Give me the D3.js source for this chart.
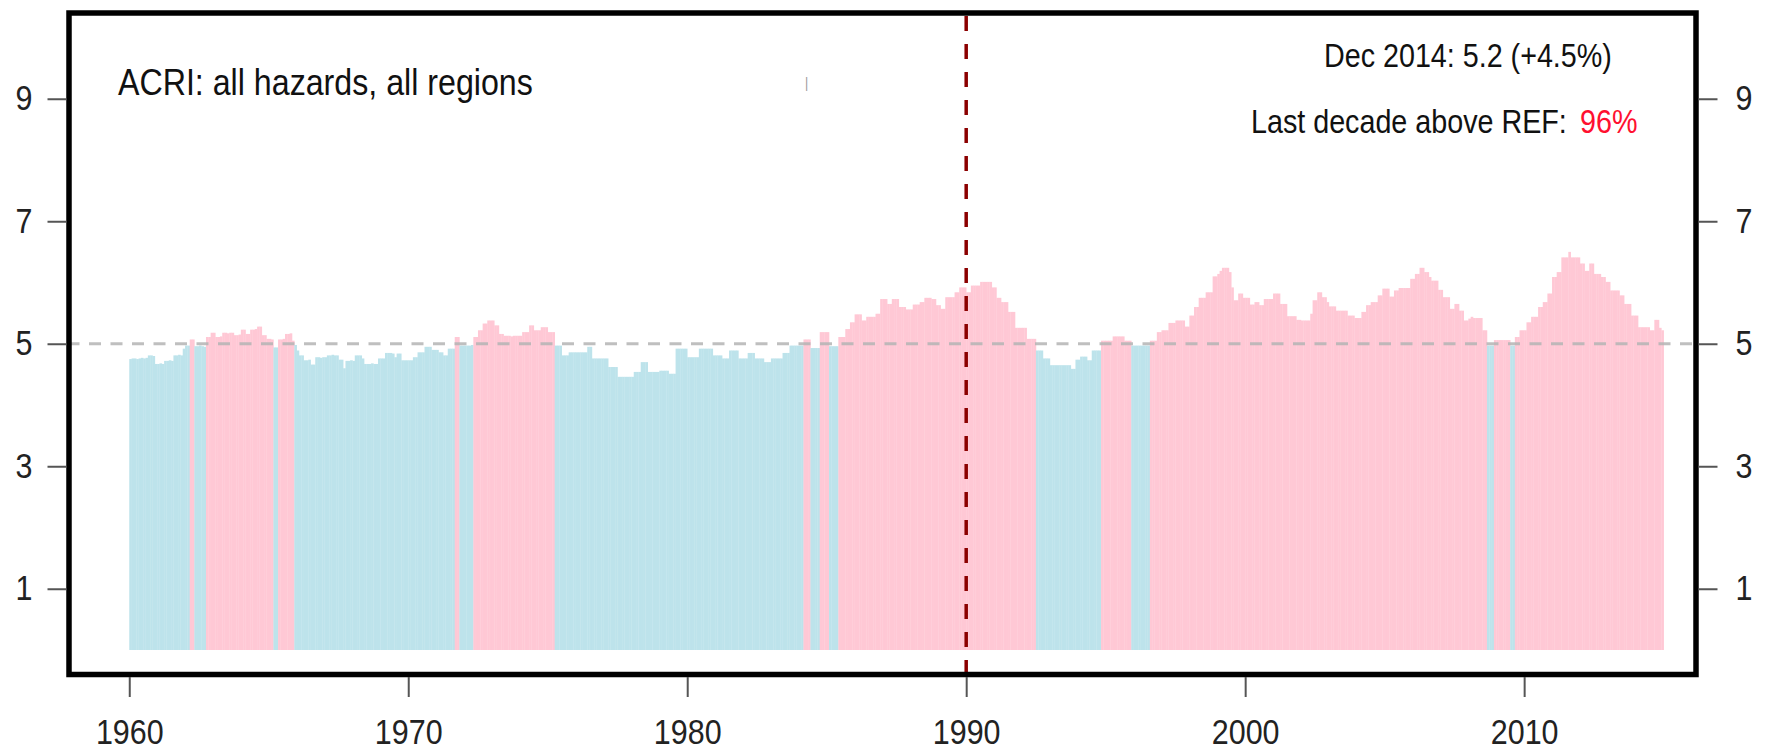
<!DOCTYPE html>
<html>
<head>
<meta charset="utf-8">
<script src="https://cdn.jsdelivr.net/npm/d3@7"></script>
<style>
  body { margin: 0; background: #fff; }
  svg text { font-family: "Liberation Sans", Arial, sans-serif; }
</style>
</head>
<body>
<div id="chart-container"></div>
<script>
   // monthly ACRI values, Jan..Dec per row
   const acri1960s = [
       4.75, 4.76, 4.76, 4.75, 4.76, 4.77, 4.76, 4.77, 4.81, 4.81, 4.80, 4.67,
       4.67, 4.68, 4.67, 4.72, 4.72, 4.73, 4.72, 4.81, 4.81, 4.82, 4.81, 4.92,
       4.97, 4.97, 5.07, 5.07, 4.96, 4.96, 4.97, 4.96, 4.95, 5.11, 5.11, 5.18,
       5.18, 5.11, 5.11, 5.12, 5.18, 5.18, 5.17, 5.18, 5.18, 5.14, 5.14, 5.15,
       5.23, 5.23, 5.16, 5.16, 5.23, 5.23, 5.24, 5.28, 5.28, 5.14, 5.14, 5.08,
       5.08, 5.07, 4.94, 4.94, 5.07, 5.07, 5.08, 5.16, 5.16, 5.17, 5.05, 4.98,
       4.89, 4.81, 4.81, 4.73, 4.73, 4.74, 4.66, 4.66, 4.78, 4.78, 4.77, 4.78,
       4.78, 4.81, 4.81, 4.82, 4.81, 4.81, 4.74, 4.74, 4.60, 4.72, 4.72, 4.73,
       4.72, 4.81, 4.81, 4.81, 4.76, 4.67, 4.67, 4.67, 4.68, 4.67, 4.67, 4.76,
       4.76, 4.76, 4.85, 4.85, 4.85, 4.84, 4.78, 4.84, 4.84, 4.73, 4.73, 4.73
   ];
   const acri1970s = [
       4.73, 4.73, 4.78, 4.78, 4.86, 4.86, 4.86, 4.95, 4.95, 4.95, 4.90, 4.90,
       4.90, 4.86, 4.86, 4.81, 4.81, 4.92, 4.92, 4.92, 5.11, 5.11, 4.97, 4.97,
       4.97, 4.97, 4.97, 4.98, 5.11, 5.11, 5.22, 5.22, 5.33, 5.33, 5.38, 5.38,
       5.38, 5.30, 5.30, 5.16, 5.16, 5.13, 5.13, 5.13, 5.12, 5.13, 5.13, 5.13,
       5.13, 5.19, 5.19, 5.19, 5.30, 5.30, 5.22, 5.22, 5.22, 5.27, 5.27, 5.27,
       5.19, 5.19, 5.19, 4.97, 4.97, 4.97, 4.81, 4.81, 4.81, 4.86, 4.86, 4.86,
       4.86, 4.86, 4.86, 4.86, 4.86, 4.95, 4.95, 4.76, 4.76, 4.76, 4.76, 4.76,
       4.76, 4.76, 4.62, 4.62, 4.62, 4.62, 4.46, 4.46, 4.46, 4.46, 4.46, 4.46,
       4.46, 4.54, 4.54, 4.54, 4.70, 4.70, 4.70, 4.54, 4.54, 4.54, 4.54, 4.54,
       4.56, 4.56, 4.56, 4.56, 4.51, 4.51, 4.51, 4.92, 4.92, 4.92, 4.92, 4.92
   ];
   const acri1980s = [
       4.78, 4.78, 4.78, 4.78, 4.78, 4.92, 4.92, 4.92, 4.92, 4.92, 4.92, 4.81,
       4.81, 4.81, 4.81, 4.76, 4.76, 4.76, 4.89, 4.89, 4.89, 4.89, 4.76, 4.76,
       4.76, 4.76, 4.85, 4.85, 4.85, 4.76, 4.76, 4.76, 4.76, 4.70, 4.70, 4.70,
       4.76, 4.76, 4.76, 4.76, 4.76, 4.85, 4.85, 4.85, 4.97, 4.97, 4.97, 4.97,
       4.97, 4.97, 5.07, 5.07, 5.07, 4.93, 4.93, 4.93, 4.93, 5.19, 5.19, 5.19,
       5.19, 4.96, 4.96, 4.96, 4.96, 5.11, 5.11, 5.11, 5.24, 5.24, 5.35, 5.35,
       5.48, 5.48, 5.48, 5.38, 5.38, 5.44, 5.44, 5.44, 5.44, 5.49, 5.49, 5.73,
       5.73, 5.73, 5.65, 5.65, 5.73, 5.73, 5.73, 5.60, 5.60, 5.60, 5.56, 5.56,
       5.56, 5.64, 5.64, 5.64, 5.68, 5.68, 5.75, 5.75, 5.75, 5.73, 5.73, 5.63,
       5.63, 5.57, 5.57, 5.76, 5.76, 5.76, 5.76, 5.84, 5.84, 5.92, 5.92, 5.92
   ];
   const acri1990s = [
       5.84, 5.84, 5.95, 5.95, 5.95, 5.95, 6.01, 6.01, 6.01, 6.01, 6.01, 5.92,
       5.92, 5.75, 5.75, 5.68, 5.68, 5.68, 5.52, 5.52, 5.52, 5.26, 5.26, 5.26,
       5.26, 5.26, 5.08, 5.08, 5.08, 5.08, 4.89, 4.89, 4.89, 4.76, 4.76, 4.76,
       4.65, 4.65, 4.65, 4.65, 4.65, 4.65, 4.65, 4.65, 4.65, 4.59, 4.59, 4.74,
       4.74, 4.79, 4.79, 4.79, 4.73, 4.73, 4.89, 4.89, 4.89, 4.89, 5.05, 5.05,
       5.05, 5.05, 5.05, 5.12, 5.12, 5.12, 5.12, 5.12, 5.05, 5.05, 5.05, 4.97,
       4.97, 4.97, 4.97, 4.97, 4.97, 4.97, 4.97, 5.05, 5.05, 5.05, 5.19, 5.19,
       5.22, 5.22, 5.22, 5.34, 5.34, 5.34, 5.38, 5.38, 5.38, 5.38, 5.28, 5.28,
       5.46, 5.46, 5.60, 5.60, 5.75, 5.75, 5.75, 5.84, 5.84, 5.84, 6.10, 6.10,
       6.14, 6.19, 6.24, 6.24, 6.24, 6.17, 5.92, 5.71, 5.71, 5.82, 5.82, 5.75
   ];
   const acri2000s = [
       5.75, 5.75, 5.64, 5.64, 5.68, 5.68, 5.63, 5.63, 5.73, 5.73, 5.73, 5.73,
       5.82, 5.82, 5.82, 5.65, 5.65, 5.65, 5.45, 5.45, 5.45, 5.45, 5.39, 5.39,
       5.38, 5.38, 5.38, 5.38, 5.49, 5.71, 5.71, 5.84, 5.84, 5.76, 5.76, 5.68,
       5.61, 5.61, 5.61, 5.54, 5.54, 5.54, 5.54, 5.54, 5.46, 5.46, 5.46, 5.42,
       5.42, 5.42, 5.52, 5.52, 5.63, 5.63, 5.68, 5.68, 5.68, 5.79, 5.79, 5.90,
       5.90, 5.90, 5.77, 5.77, 5.87, 5.87, 5.91, 5.91, 5.91, 5.91, 5.91, 6.06,
       6.06, 6.14, 6.14, 6.24, 6.24, 6.17, 6.17, 6.09, 6.03, 6.03, 6.03, 5.88,
       5.88, 5.76, 5.76, 5.76, 5.57, 5.57, 5.65, 5.65, 5.54, 5.54, 5.38, 5.38,
       5.41, 5.44, 5.42, 5.42, 5.42, 5.42, 5.22, 5.22, 4.97, 4.97, 4.97, 5.06,
       5.06, 5.06, 5.06, 5.06, 5.06, 5.06, 4.97, 4.97, 5.11, 5.11, 5.22, 5.22
   ];
   const acri2010s = [
       5.22, 5.35, 5.35, 5.44, 5.44, 5.44, 5.60, 5.60, 5.68, 5.68, 5.82, 5.82,
       6.09, 6.09, 6.17, 6.17, 6.41, 6.41, 6.41, 6.50, 6.41, 6.41, 6.41, 6.41,
       6.31, 6.31, 6.19, 6.19, 6.31, 6.31, 6.14, 6.14, 6.14, 6.09, 6.09, 6.01,
       6.01, 5.87, 5.87, 5.87, 5.87, 5.79, 5.79, 5.65, 5.65, 5.65, 5.46, 5.46,
       5.46, 5.27, 5.27, 5.27, 5.27, 5.27, 5.22, 5.22, 5.39, 5.39, 5.26, 5.22
   ];

   const startYear = 1960;
   const refLevel = 5;
   const markYear = 1990;
   const xLimits = [1960, 2014];
   const yLimits = [0, 10];
   const xTicks = [1960, 1970, 1980, 1990, 2000, 2010];
   const yTicks = [1, 3, 5, 7, 9];

   const titleText = "ACRI: all hazards, all regions";
   const latestText = "Dec 2014: 5.2 (+4.5%)";
   const decadeText = "Last decade above REF:";
   const decadeShare = "96%";

   const values = [].concat(acri1960s, acri1970s, acri1980s, acri1990s, acri2000s, acri2010s);
   const dataset = values.map((v, i) => ({ t: startYear + i / 12, value: v }));

   const box = { left: 69, right: 1696, top: 13, bottom: 674.5 };
   const squeezeX = 0.87;

   // R style 4% padding on both axes
   const padX = 0.04 * (xLimits[1] - xLimits[0]);
   const padY = 0.04 * (yLimits[1] - yLimits[0]);

   const x = d3.scaleLinear()
       .domain([xLimits[0] - padX, xLimits[1] + padX])
       .range([box.left, box.right]);

   const y = d3.scaleLinear()
       .domain([yLimits[0] - padY, yLimits[1] + padY])
       .range([box.bottom, box.top]);

   const svg = d3.select("#chart-container")
       .append("svg")
       .attr("width", 1767)
       .attr("height", 752);

   // narrow text like the source
   function squeeze(sel) {
       sel.each(function () {
           const t = d3.select(this);
           const tx = +t.attr("x") || 0;
           t.attr("x", 0).attr("transform", `translate(${tx},0) scale(${squeezeX},1)`);
       });
   }

   const barW = x(startYear + 1 / 12) - x(startYear);

   svg.append("g")
       .selectAll("rect")
       .data(dataset)
       .join("rect")
       .attr("x", d => x(d.t))
       .attr("width", barW + 0.3)
       .attr("y", d => y(d.value))
       .attr("height", d => y(0) - y(d.value))
       .attr("fill", d => d.value >= refLevel ? "#ffc8d5" : "#bde3eb");

   // reference level
   svg.append("line")
       .attr("x1", box.left - 1.5)
       .attr("x2", box.right)
       .attr("y1", y(refLevel))
       .attr("y2", y(refLevel))
       .attr("stroke", "#b4b4b4")
       .attr("stroke-opacity", 0.85)
       .attr("stroke-width", 3)
       .attr("stroke-dasharray", "12,9.5");

   svg.append("line")
       .attr("x1", x(markYear))
       .attr("x2", x(markYear))
       .attr("y1", box.top)
       .attr("y2", box.bottom)
       .attr("stroke", "#8b0000")
       .attr("stroke-width", 3.5)
       .attr("stroke-dasharray", "15,13")
       .attr("stroke-dashoffset", -3);

   svg.append("rect")
       .attr("x", box.left)
       .attr("y", box.top)
       .attr("width", box.right - box.left)
       .attr("height", box.bottom - box.top)
       .attr("fill", "none")
       .attr("stroke", "#000")
       .attr("stroke-width", 5.5);

   function styleAxis(g) {
       g.select(".domain").remove();
       g.attr("font-size", 35).attr("font-family", null);
       g.selectAll(".tick line").attr("stroke", "#555").attr("stroke-width", 2);
       g.selectAll(".tick text").attr("fill", "#222").call(squeeze);
   }

   svg.append("g")
       .attr("transform", `translate(${box.left - 2.5},0)`)
       .call(d3.axisLeft(y).tickValues(yTicks).tickSize(19).tickPadding(15))
       .call(styleAxis);

   svg.append("g")
       .attr("transform", `translate(${box.right + 2.5},0)`)
       .call(d3.axisRight(y).tickValues(yTicks).tickSize(19).tickPadding(18))
       .call(styleAxis);

   svg.append("g")
       .attr("transform", `translate(0,${box.bottom + 2.5})`)
       .call(d3.axisBottom(x).tickValues(xTicks).tickFormat(d3.format("d")).tickSize(20).tickPadding(22))
       .call(styleAxis);

   function label(txt, px, py, size, color) {
       return svg.append("text")
           .attr("transform", `translate(${px},${py}) scale(${squeezeX},1)`)
           .attr("font-size", size)
           .attr("fill", color)
           .text(txt);
   }

   label(titleText, 118, 95, 37, "#111");
   label(latestText, 1324, 67, 33, "#111");
   label(decadeText, 1251, 133, 33, "#111");
   label(decadeShare, 1580, 133, 33, "#ff1030");
   label("|", 805, 88, 14, "#999");
</script>
</body>
</html>
